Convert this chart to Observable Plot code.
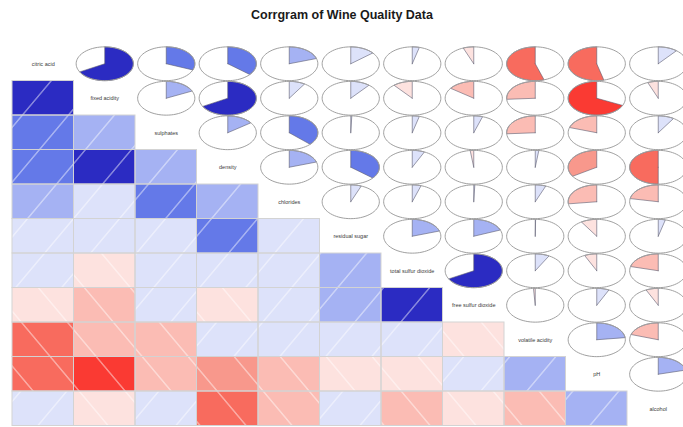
<!DOCTYPE html>
<html>
<head>
<meta charset="utf-8">
<script src="https://cdn.jsdelivr.net/npm/d3@7"></script>
<script src="https://cdn.jsdelivr.net/npm/@observablehq/plot@0.6"></script>
<style>
  html, body { margin: 0; padding: 0; background: #fff; overflow: hidden; }
</style>
</head>
<body>
<div id="chart"></div>
<script>
// Variables in corrgram order (diagonal labels)
const variables = [
  "citric acid", "fixed acidity", "sulphates", "density", "chlorides",
  "residual sugar", "total sulfur dioxide", "free sulfur dioxide",
  "volatile acidity", "pH", "alcohol"
];

// Lower-triangle correlations: each row against the variables listed before it
const corFixedAcidity   = [0.67];
const corSulphates      = [0.31, 0.18];
const corDensity        = [0.36, 0.67, 0.15];
const corChlorides      = [0.20, 0.09, 0.37, 0.20];
const corResidualSugar  = [0.14, 0.11, 0.006, 0.36, 0.06];
const corTotalSO2       = [0.04, -0.11, 0.04, 0.07, 0.05, 0.20];
const corFreeSO2        = [-0.06, -0.15, 0.05, -0.02, 0.006, 0.19, 0.67];
const corVolatile       = [-0.55, -0.26, -0.26, 0.02, 0.06, 0.002, 0.08, -0.01];
const corPH             = [-0.54, -0.68, -0.20, -0.34, -0.27, -0.09, -0.07, 0.07, 0.23];
const corAlcohol        = [0.11, -0.06, 0.09, -0.50, -0.22, 0.04, -0.21, -0.07, -0.20, 0.21];

const lowerRows = [
  [], corFixedAcidity, corSulphates, corDensity, corChlorides, corResidualSugar,
  corTotalSO2, corFreeSO2, corVolatile, corPH, corAlcohol
];

const title = "Corrgram of Wine Quality Data";

// 14 colour bins from -1 to 1 (red -> white -> blue)
const binColors = [
  "#ff0000", "#fc1c18", "#fa3a33", "#f86b5e", "#f8988c", "#fbbcb4", "#fde2df",
  "#dde2fa", "#a5b2f3", "#6479e8", "#4656d6", "#2b2bc2", "#1a1aa6", "#000080"
];
const thresholds = d3.range(1, 14).map(k => -1 + (2 * k) / 14);

const corr = (i, j) => (i > j ? lowerRows[i][j] : lowerRows[j][i]);
const n = variables.length;

const lowerCells = [];
const pies = [];
for (let i = 0; i < n; i++) {
  for (let j = 0; j < n; j++) {
    if (i > j) lowerCells.push({row: i, col: j, r: corr(i, j)});
    else if (j > i) pies.push({id: `${i}-${j}`, row: i, col: j, r: corr(i, j)});
  }
}
const diagonal = variables.map((name, i) => ({name, i}));

// Pie geometry in cell units (one cell = 1 x 1)
const RX = 0.465, RY = 0.49;
const ellipsePts = pies.flatMap(p => d3.range(73).map(k => {
  const t = (2 * Math.PI * k) / 72;
  return {id: p.id, x: p.col + 0.5 + RX * Math.sin(t), y: p.row + 0.5 - RY * Math.cos(t)};
}));
const wedgePts = pies.flatMap(p => {
  const cx = p.col + 0.5, cy = p.row + 0.5;
  const steps = Math.max(2, Math.ceil(Math.abs(p.r) * 90));
  const pts = [{id: p.id, r: p.r, x: cx, y: cy}];
  for (let k = 0; k <= steps; k++) {
    const t = 2 * Math.PI * p.r * (k / steps);
    pts.push({id: p.id, r: p.r, x: cx + RX * Math.sin(t), y: cy - RY * Math.cos(t)});
  }
  pts.push({id: p.id, r: p.r, x: cx, y: cy});
  return pts;
});

const cellRect = {x1: "col", x2: d => d.col + 1, y1: "row", y2: d => d.row + 1};

const chart = Plot.plot({
  width: 683,
  height: 427,
  margin: 0,
  style: {fontFamily: "'Liberation Sans', Arial, sans-serif", background: "#fff", overflow: "hidden"},
  x: {type: "linear", domain: [0, n], range: [12, 688.5], axis: null},
  y: {type: "linear", domain: [0, n], range: [46, 425.5], axis: null},
  color: {type: "threshold", domain: thresholds, range: binColors},
  marks: [
    // shaded lower panels
    Plot.rect(lowerCells, {...cellRect, fill: "r"}),
    Plot.rect(lowerCells, {...cellRect, filter: d => d.r >= 0, fill: "url(#hatch-pos)"}),
    Plot.rect(lowerCells, {...cellRect, filter: d => d.r < 0, fill: "url(#hatch-neg)"}),
    Plot.rect(lowerCells, {...cellRect, fill: "none", stroke: "#d3d3d3", strokeWidth: 1}),
    // pie upper panels
    Plot.line(wedgePts, {x: "x", y: "y", z: "id", fill: "r", stroke: "#5c5c70", strokeWidth: 0.6}),
    Plot.line(ellipsePts, {x: "x", y: "y", z: "id", stroke: "#a0a0a0", strokeWidth: 1, fill: "none"}),
    // variable names on the diagonal
    Plot.text(diagonal, {x: d => d.i + 0.5, y: d => d.i + 0.5, text: "name", fontSize: 5.5, fill: "#3a3a3a"}),
    // title
    Plot.text([title], {frameAnchor: "top", lineAnchor: "middle", dy: 14, fontSize: 12.5, fontWeight: "bold", fill: "#1a1a1a"})
  ]
});

// white hatching patterns: "/" for positive, "\" for negative correlations
const defs = d3.select(chart).insert("defs", ":first-child");
[["hatch-pos", -40], ["hatch-neg", 40]].forEach(([id, skew]) => {
  const p = defs.append("pattern")
    .attr("id", id)
    .attr("patternUnits", "userSpaceOnUse")
    .attr("width", 46).attr("height", 10)
    .attr("patternTransform", `skewX(${skew})`);
  p.append("line")
    .attr("x1", 27).attr("x2", 27).attr("y1", -1).attr("y2", 11)
    .attr("stroke", "#fff").attr("stroke-opacity", 0.85).attr("stroke-width", 1);
});

document.getElementById("chart").appendChild(chart);
</script>
</body>
</html>
